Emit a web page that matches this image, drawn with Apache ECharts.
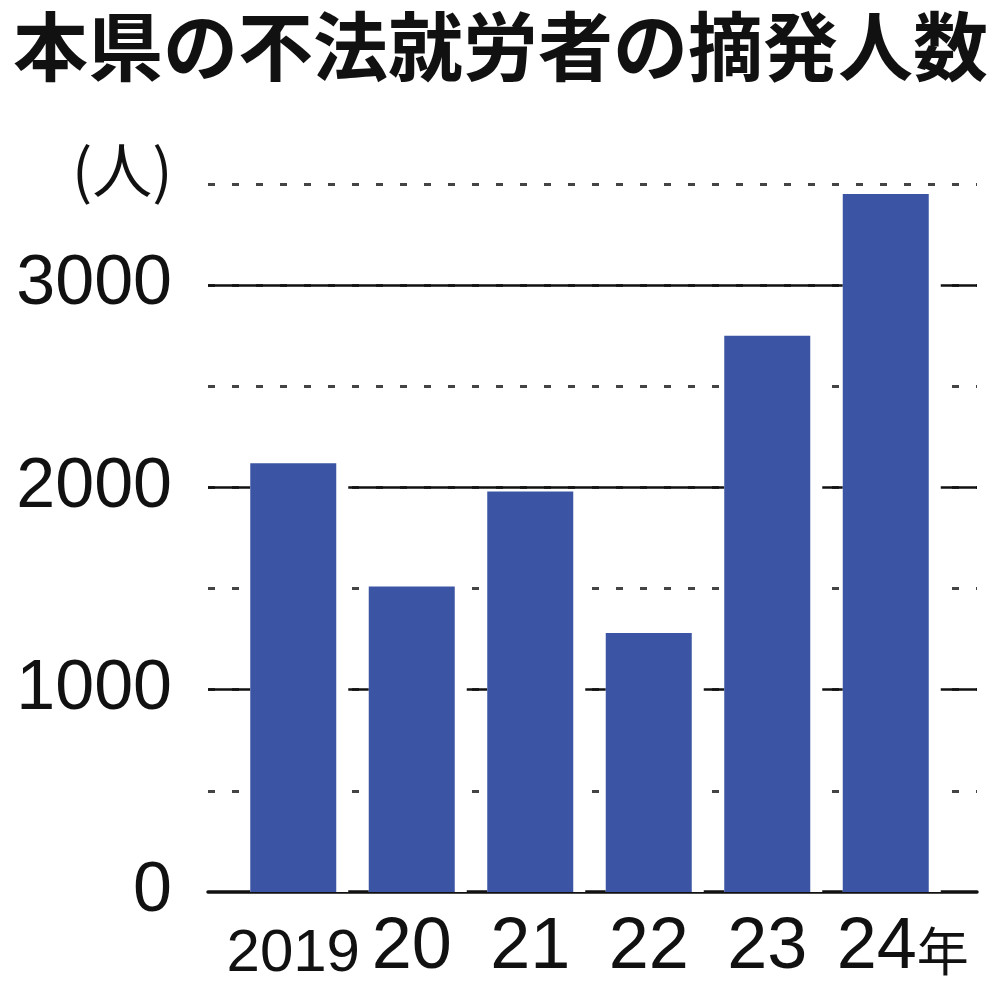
<!DOCTYPE html>
<html>
<head>
<meta charset="utf-8">
<script src="https://cdn.jsdelivr.net/npm/echarts@6/dist/echarts.min.js"></script>
<style>
html,body{margin:0;padding:0;background:#fff;}
#c{width:1000px;height:1000px;}
</style>
</head>
<body>
<div id="c"></div>
<script>
const titleText = '本県の不法就労者の摘発人数';
const unitText = '(人)';
const categories = ['2019', '20', '21', '22', '23', '24年'];
const values = [2120, 1510, 1980, 1280, 2750, 3450];
const yMax = 3500;
const majorStep = 1000;
const minorStep = 500;

const REG = "'Liberation Sans', Arial, sans-serif";
const CJK = "'Noto Sans CJK JP', sans-serif";
const BAR = '#3b54a3';

const chart = echarts.init(document.getElementById('c'), null, {renderer: 'canvas'});

const gridTop = 184, gridBottom = 108;

chart.setOption({
  animation: false,
  backgroundColor: '#fff',
  title: {
    text: titleText,
    left: 8, top: 4,
    textStyle: {fontFamily: CJK, fontWeight: 'bold', fontSize: 75, color: '#111'}
  },
  graphic: [{
    type: 'text',
    left: 72, top: 140,
    style: {text: unitText, font: 'normal 60px ' + CJK, fill: '#111'}
  }],
  grid: [
    {left: 208, right: 23, top: gridTop, bottom: gridBottom, outerBoundsMode: 'none', containLabel: false},
    {left: 234, right: 55, top: gridTop, bottom: gridBottom, outerBoundsMode: 'none', containLabel: false}
  ],
  xAxis: [
    {type: 'category', gridIndex: 0, data: categories, show: true,
     axisLine: {show: true, lineStyle: {color: '#111', width: 3.5}},
     axisTick: {show: false}, axisLabel: {show: false}, splitLine: {show: false}},
    {type: 'category', gridIndex: 1, data: categories,
     axisLine: {show: false}, axisTick: {show: false},
     axisLabel: {
       margin: 20, color: '#111',
       formatter: function (v) {
         if (v.endsWith('年')) return '{p|}{w|' + v.slice(0, -1) + '}{k|年}';
         if (v.length > 2) return '{n|' + v + '}';
         return '{w|' + v + '}';
       },
       rich: {
         n: {fontFamily: REG, fontSize: 60, color: '#111', padding: [12, 0, 0, 0]},
         w: {fontFamily: REG, fontSize: 72, color: '#111'},
         k: {fontFamily: CJK, fontSize: 52, color: '#111', padding: [6, 0, 0, 0]},
         p: {width: 34}
       }
     }}
  ],
  yAxis: [
    {type: 'value', gridIndex: 0, min: 0, max: yMax, interval: minorStep,
     axisLine: {show: false}, axisTick: {show: false},
     axisLabel: {
       margin: 36, color: '#111', fontFamily: REG, fontSize: 70,
       formatter: function (v) { return (v % majorStep === 0) ? String(v) : ''; }
     },
     splitLine: {show: true, showMinLine: false, lineStyle: {color: '#444', width: 3, type: [7, 17]}}},
    {type: 'value', gridIndex: 0, min: 0, max: yMax, interval: majorStep, position: 'left',
     axisLine: {show: false}, axisTick: {show: false}, axisLabel: {show: false},
     splitLine: {show: true, showMinLine: false, showMaxLine: false, lineStyle: {color: '#111', width: 2.5}}},
    {type: 'value', gridIndex: 1, min: 0, max: yMax, show: false, splitLine: {show: false}}
  ],
  series: [
    {type: 'bar', xAxisIndex: 1, yAxisIndex: 2, data: values, barWidth: 98,
     itemStyle: {color: '#fff'}, silent: true, z: 3},
    {type: 'bar', xAxisIndex: 1, yAxisIndex: 2, data: values, barWidth: 86, barGap: '-100%',
     itemStyle: {color: BAR}, z: 4}
  ]
});
</script>
</body>
</html>
